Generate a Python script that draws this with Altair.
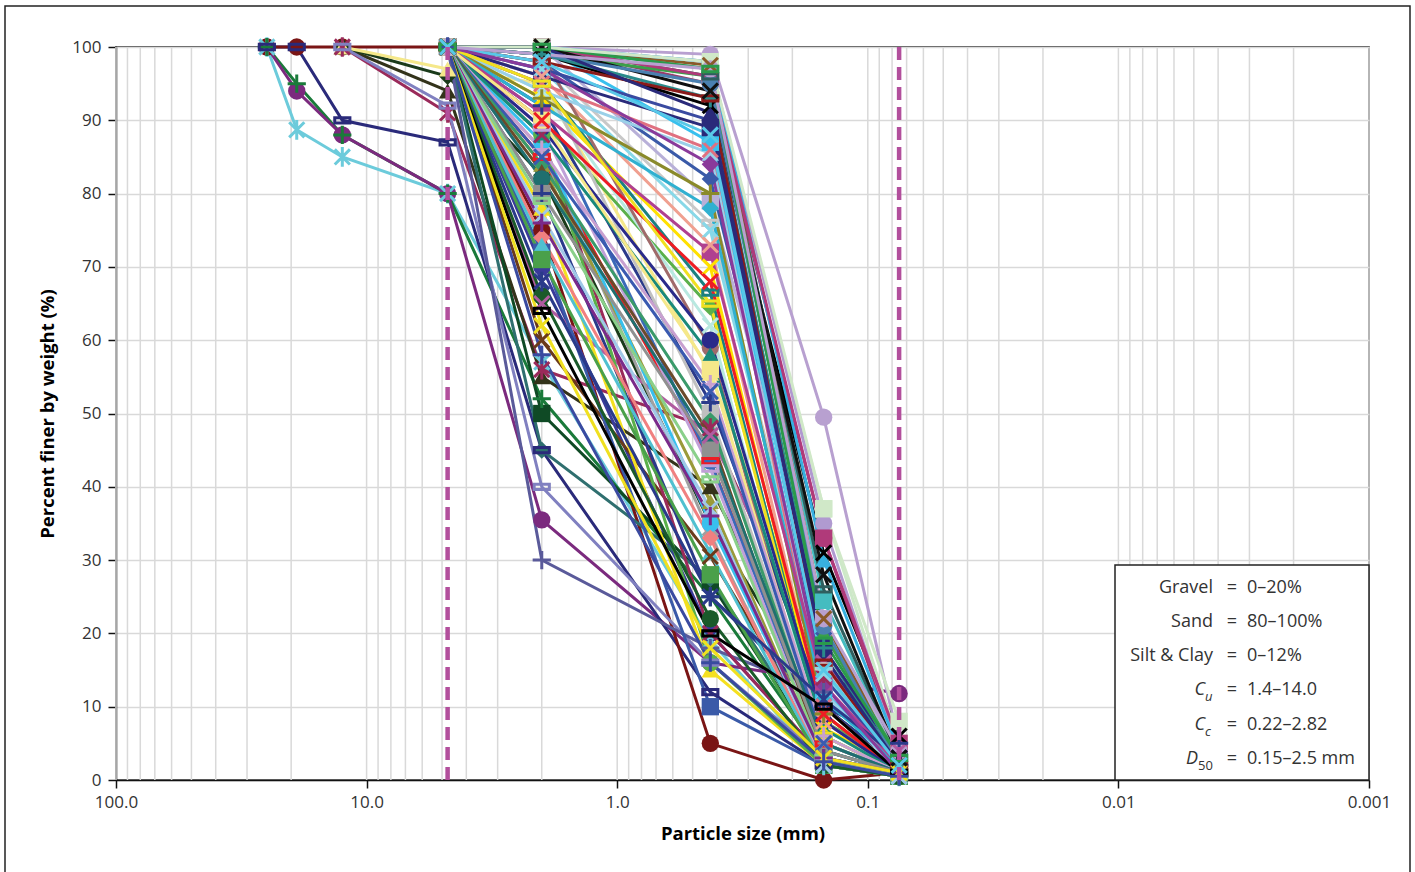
import altair as alt
import pandas as pd

# Sieve sizes (mm)
SIEVES = [25, 19, 12.5, 4.75, 2.0, 0.425, 0.15, 0.075]
N = None

# Percent finer at each sieve, one row per sample (None = not plotted)
COARSE_SAMPLES = [
    [100, 88.7, 85, 80, 57, 19, 2, 0.5],
    [100, 95, 88, 80, 52, 25, 3, 0.5],
    [100, 94, 88, 80, 35.5, 16, 13.5, 11.8],
    [100, 100, 90, 87, 45, 12, 2, 0.5],
    [100, 100, 100, 100, 75, 5, 0, 1],
    [N, N, 100, 91, 56, 48, 14, 3],
    [N, N, 100, 94, 55, 40, 10, 2],
    [N, N, 100, 96, 82.5, 35, 10, 1],
    [N, N, 100, 97, 95, 55.5, 15, 2],
    [N, N, 100, 92, 40, 16, 3, 1],
]

# samples passing 100% at 4.75 mm: values at 4.75, 2.0, 0.425, 0.15, 0.075
SAND_SAMPLES = [
    [100, 70, 20, 3, 1],
    [100, 65, 47, 16, 4],
    [100, 60, 30.5, 5, 1],
    [100, 50, 27, 3, 0.5],
    [100, 45, 27.5, 4, 1],
    [100, 30, 18, 12, 2],
    [100, 85, 43.5, 5, 1],
    [100, 90, 64.5, 8, 2],
    [100, 86, 33.5, 2, 0.5],
    [100, 93, 70, 7, 2],
    [100, 98, 82, 20, 3],
    [100, 100, 99, 49.5, 5],
    [100, 100, 97, 24.5, 3],
    [100, 100, 87, 12, 2],
    [100, 99, 92, 31, 6],
    [100, 100, 95, 33, 4],
    [100, 100, 96, 37, 5],
    [100, 98, 76, 15.5, 2],
    [100, 97, 75, 14.5, 1],
    [100, 96, 73, 8, 1],
    [100, 95, 66.5, 6, 1],
    [100, 94, 62, 5, 1],
    [100, 99, 59, 3, 0.5],
    [100, 92, 51.5, 10, 5],
    [100, 96, 50, 5, 1],
    [100, 88, 20, 3, 1],
    [100, 91, 43.5, 4, 1],
    [100, 89, 42.5, 3, 1],
    [100, 84, 38, 2.5, 0.5],
    [100, 87, 35, 3, 1],
    [100, 80, 25, 10, 2],
    [100, 78, 15, 2, 0.5],
    [100, 72, 10, 2, 0.5],
    [100, 88, 16, 2, 0.5],
    [100, 100, 79, 22, 3],
    [100, 99, 93, 18, 2],
    [100, 100, 96, 26, 3],
    [100, 100, 98, 35, 4],
    [100, 100, 97.5, 22, 2],
    [100, 99, 96, 20, 3],
    [100, 98, 93, 16, 2],
    [100, 97, 90, 14, 2],
    [100, 96, 89, 18, 3],
    [100, 95, 86, 10, 1],
    [100, 94, 85.5, 12, 1],
    [100, 93, 80, 9, 1],
    [100, 92, 78, 11, 2],
    [100, 91, 72, 13, 2],
    [100, 90, 68, 9, 1],
    [100, 95, 65, 6, 1],
    [100, 89, 60, 8, 1],
    [100, 88, 58, 7, 1],
    [100, 90, 56, 5, 1],
    [100, 86, 54, 6, 1],
    [100, 85, 53, 5, 1],
    [100, 84, 49, 4, 1],
    [100, 83, 47, 3, 0.5],
    [100, 82, 46, 5, 1],
    [100, 80, 45, 4, 1],
    [100, 79, 41, 3, 0.5],
    [100, 77, 37, 2, 0.5],
    [100, 76, 36, 3, 1],
    [100, 74, 33, 2, 0.5],
    [100, 73, 31, 2, 0.5],
    [100, 71, 28, 2, 0.5],
    [100, 68, 25, 11, 3],
    [100, 66, 22, 2, 0.5],
    [100, 64, 20, 10, 1],
    [100, 62, 18, 3, 1],
    [100, 58, 16, 2.5, 0.5],
    [100, 100, 98, 30, 4],
    [100, 100, 96, 33, 5],
    [100, 100, 94, 28, 3],
    [100, 99, 95, 21, 2],
    [100, 100, 97, 19, 3],
    [100, 100, 91, 17, 2],
    [100, 98, 88, 15, 2],
    [100, 97, 84, 13, 1],
    [100, 100, 98, 37, 8],
    [100, 99, 97, 22, 4],
]

COLORS = [
    "#6ccbdb", "#1a7a3a", "#7b2a7e", "#2a2a7a", "#7a1515", "#9a2a5a", "#33331a", "#1a3a1a", "#f5e88a", "#8080c0",
    "#3a3a9a", "#b05ca0", "#6b3a1a", "#0f4a25", "#2f6f6f", "#5a5a9a", "#ee1c24", "#5ab04a", "#a0a0a0", "#ffe000",
    "#3a5aa8", "#b8a0d0", "#45bcc0", "#38c0ee", "#000000", "#9a3a6a", "#cce8c8", "#c8c8c8", "#88d8e8", "#f0a090",
    "#1a8080", "#b8e8e0", "#a06a6a", "#2a3a8a", "#c0c0c0", "#9a2a5a", "#3a6ab8", "#c0a0d8", "#9a9a3a", "#38c0ee",
    "#2a3a8a", "#f5e020", "#3a5aa8", "#5ab04a", "#b8b0d8", "#2a8a8a", "#2f5f5f", "#b09ad0", "#8a5a2a", "#3aa04a",
    "#8a1a1a", "#3a4aa0", "#2a2a7a", "#e07080", "#9ad0e8", "#8a8a2a", "#30b0d0", "#b04090", "#ee1c24", "#f0e020",
    "#2a2a8a", "#1a8a7a", "#f5e88a", "#c8a0d0", "#3a5ab0", "#3a9a6a", "#6b4a2a", "#1f6f6f", "#909090", "#8ad08a",
    "#a0c8e8", "#7a2a8a", "#f08080", "#50c0d0", "#4aa04a", "#2a3a8a", "#1a5a2a", "#000000", "#f0e020", "#3a4aa0",
    "#38b0e0", "#b03a7a", "#101010", "#4a80b0", "#2a9a4a", "#2a2a7a", "#58c8e8", "#8a3a9a", "#d0e8c8", "#b8a0d0",
]

MARKERS = [
    "star", "plus", "circle", "dash", "circle", "star", "triangle", "diamond", "triangle", "dash",
    "circle", "x", "x", "square", "diamond", "plus", "dash", "diamond", "diamond", "x",
    "diamond", "circle", "square", "square", "x", "circle", "square", "dash", "x", "x",
    "dash", "x", "circle", "plus", "square", "x", "circle", "dash", "triangle", "circle",
    "plus", "triangle", "square", "circle", "square", "plus", "dash", "circle", "x", "triangle",
    "dash", "diamond", "square", "x", "triangle", "plus", "diamond", "square", "x", "dash",
    "circle", "triangle", "square", "plus", "x", "diamond", "triangle", "circle", "square", "dash",
    "x", "plus", "diamond", "triangle", "square", "star", "circle", "dash", "x", "plus",
    "triangle", "square", "x", "circle", "dash", "triangle", "x", "diamond", "square", "circle",
]

SHAPE_PATHS = {
    "circle": "circle",
    "square": "square",
    "triangle": "triangle-up",
    "diamond": "diamond",
    "x": "M-1,-1L1,1M-1,1L1,-1",
    "star": "M-1,-1L1,1M-1,1L1,-1M0,-1.3L0,1.3",
    "plus": "M-1.2,0L1.2,0M0,-1.2L0,1.2",
    "dash": "M-1,-0.35L1,-0.35L1,0.35L-1,0.35Z",
}
FILLED = {"circle", "square", "triangle", "diamond"}

X_TICKS = [100, 10, 1, 0.1, 0.01, 0.001]
GRID_X = [k * d for d in [0.001, 0.01, 0.1, 1, 10] for k in range(1, 10)] + [100]
DASHED_X = [4.75, 0.075]
Y_TICKS = list(range(0, 101, 10))

LEGEND_LEFT = ["Gravel", "Sand", "Silt & Clay"]
LEGEND_RIGHT = ["0–20%", "80–100%", "0–12%", "1.4–14.0", "0.22–2.82", "0.15–2.5 mm"]

# ---- build table ----
all_rows = COARSE_SAMPLES + [[N, N, N] + r for r in SAND_SAMPLES]
names = [f"S{i + 1:02d}" for i in range(len(all_rows))]
records = []
for name, vals in zip(names, all_rows):
    for s, v in zip(SIEVES, vals):
        if v is not None:
            records.append({"sample": name, "size": s, "pct": v})
df = pd.DataFrame(records)

shape_range = [SHAPE_PATHS[m] for m in MARKERS[: len(names)]]
filled_names = [n for n, m in zip(names, MARKERS) if m in FILLED]
stroke_names = [n for n, m in zip(names, MARKERS) if m not in FILLED]

W, H = 1253, 733
x_scale = alt.Scale(type="log", domain=[0.001, 100], reverse=True)
y_scale = alt.Scale(domain=[0, 100], nice=False)

label_expr = ("datum.value >= 100 ? '100.0' : datum.value >= 10 ? '10.0' : datum.value >= 1 ? '1.0' : "
              "datum.value >= 0.1 ? '0.1' : datum.value >= 0.01 ? '0.01' : '0.001'")
X_AXIS = alt.Axis(values=X_TICKS, labelExpr=label_expr, title="Particle size (mm)", grid=False,
                  tickSize=8, labelFlush=False, labelPadding=6, titlePadding=14, labelOverlap=False)
Y_AXIS = alt.Axis(values=Y_TICKS, title="Percent finer by weight (%)", grid=True, gridColor="#d9d9d9",
                  gridWidth=1.5, tickSize=8, labelFlush=False, labelPadding=7, titlePadding=14)

xenc = lambda f: alt.X(f"{f}:Q", scale=x_scale, axis=X_AXIS)
color_enc = alt.Color("sample:N", scale=alt.Scale(domain=names, range=COLORS[: len(names)]), legend=None)
shape_enc = alt.Shape("sample:N", scale=alt.Scale(domain=names, range=shape_range), legend=None)

grid = alt.Chart(pd.DataFrame({"g": GRID_X})).mark_rule(color="#d9d9d9", strokeWidth=1.5).encode(x=xenc("g"))

lines = alt.Chart(df).mark_line(strokeWidth=3).encode(
    x=xenc("size"), y=alt.Y("pct:Q", scale=y_scale, axis=Y_AXIS), color=color_enc, detail="sample:N"
)
pts_filled = alt.Chart(df).transform_filter(
    alt.FieldOneOfPredicate(field="sample", oneOf=filled_names)
).mark_point(filled=True, size=300, opacity=1).encode(
    x=xenc("size"), y=alt.Y("pct:Q", scale=y_scale, axis=Y_AXIS), color=color_enc, shape=shape_enc
)
pts_stroke = alt.Chart(df).transform_filter(
    alt.FieldOneOfPredicate(field="sample", oneOf=stroke_names)
).mark_point(filled=False, size=230, opacity=1, strokeWidth=3).encode(
    x=xenc("size"), y=alt.Y("pct:Q", scale=y_scale, axis=Y_AXIS), color=color_enc, shape=shape_enc
)

dashed = alt.Chart(pd.DataFrame({"d": DASHED_X})).mark_rule(
    color="#b24f9c", strokeWidth=4.5, strokeDash=[13, 7]
).encode(x=xenc("d"))

one = pd.DataFrame({"a": [0]})
frame = alt.Chart(one).mark_rect(filled=False, stroke="#222222", strokeWidth=1.5).encode(
    x=alt.value(-111), x2=alt.value(1294), y=alt.value(-41), y2=alt.value(835)
)
box = alt.Chart(one).mark_rect(fill="white", stroke="#222222", strokeWidth=1.5).encode(
    x=alt.value(999), x2=alt.value(1253), y=alt.value(518), y2=alt.value(733)
)

row_y = [541, 575, 609, 643, 678, 712]
texts = []
tcolor = "#333333"
fs = 18
for i, lab in enumerate(LEGEND_LEFT):
    texts.append(alt.Chart(one).mark_text(text=lab, align="right", baseline="middle", fontSize=fs, color=tcolor)
                 .encode(x=alt.value(1097), y=alt.value(row_y[i])))
# italic symbols with subscripts
sym = [("C", "u", 3), ("C", "c", 4), ("D", "50", 5)]
for main, sub, i in sym:
    sub_w = 8 if len(sub) == 1 else 15
    texts.append(alt.Chart(one).mark_text(text=main, align="right", baseline="middle", fontSize=fs,
                                          fontStyle="italic", color=tcolor)
                 .encode(x=alt.value(1097 - sub_w), y=alt.value(row_y[i])))
    texts.append(alt.Chart(one).mark_text(text=sub, align="left", baseline="middle", fontSize=13,
                                          fontStyle="italic" if sub.isalpha() else "normal", color=tcolor)
                 .encode(x=alt.value(1097 - sub_w), y=alt.value(row_y[i] + 7)))
for i, val in enumerate(LEGEND_RIGHT):
    texts.append(alt.Chart(one).mark_text(text="=", align="center", baseline="middle", fontSize=fs, color=tcolor)
                 .encode(x=alt.value(1116), y=alt.value(row_y[i])))
    texts.append(alt.Chart(one).mark_text(text=val, align="left", baseline="middle", fontSize=fs, color=tcolor)
                 .encode(x=alt.value(1131), y=alt.value(row_y[i])))

chart = alt.layer(grid, lines, pts_filled, pts_stroke, dashed, box, frame, *texts).properties(
    width=W, height=H,
    autosize=alt.AutoSizeParams(type="none"),
    padding={"left": 116, "top": 47, "right": 46, "bottom": 92},
).configure(font="Open Sans").configure_view(stroke="#111111", strokeWidth=1.5).configure_axis(
    labelFont="Open Sans", labelFontSize=17, labelColor="#333333",
    titleFont="Open Sans", titleFontSize=18.5, titleFontWeight="bold", titleColor="#000000",
    domainColor="#111111", domainWidth=1.5, tickColor="#111111", tickWidth=1.5,
)

chart.save("out.html", embed_options={"renderer": "svg", "actions": False})
